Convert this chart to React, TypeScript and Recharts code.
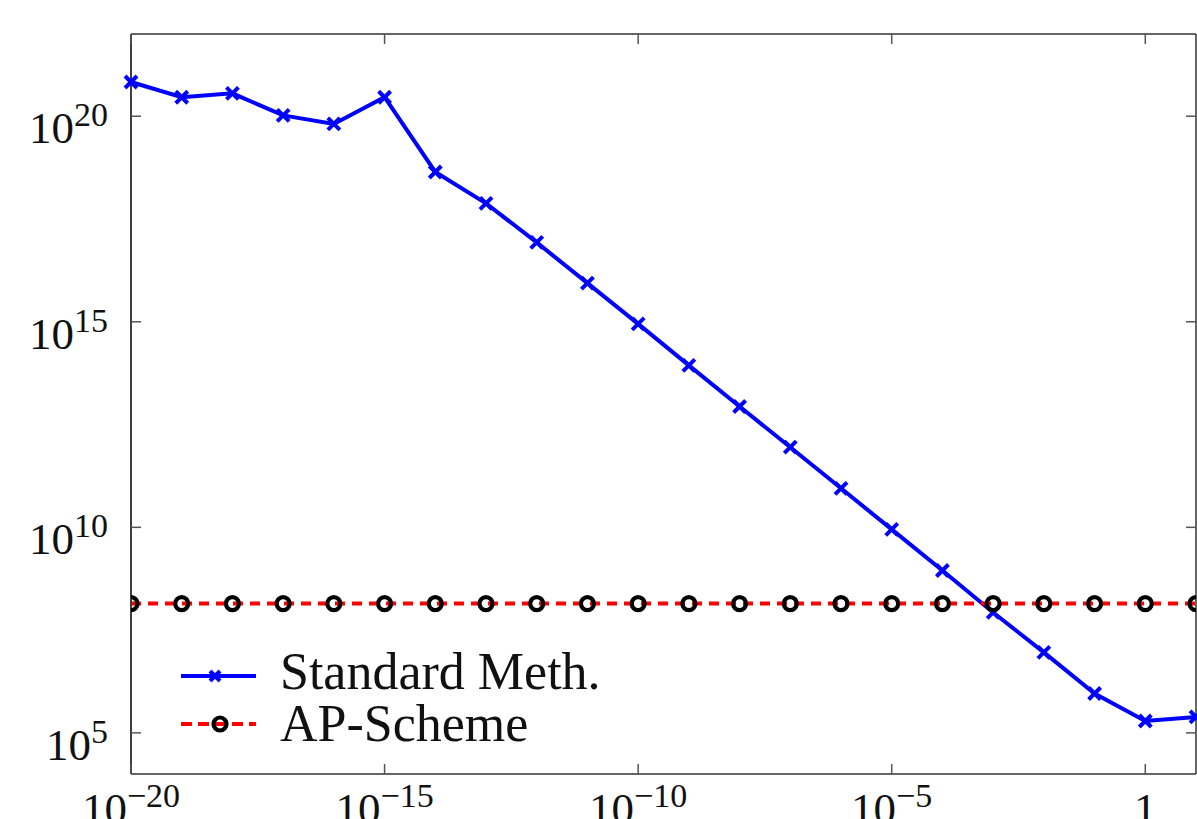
import { LineChart, Line, XAxis, YAxis, Legend } from 'recharts'

const xValues = [
  1e-20, 1e-19, 1e-18, 1e-17, 1e-16, 1e-15, 1e-14, 1e-13, 1e-12, 1e-11, 1e-10,
  1e-9, 1e-8, 1e-7, 1e-6, 1e-5, 1e-4, 1e-3, 1e-2, 1e-1, 1, 10,
]
const standardMeth = [
  6.8e20, 2.9e20, 3.6e20, 1.05e20, 6.5e19, 2.9e20, 4.4e18, 7.6e17, 8.5e16, 8.7e15, 8.9e14,
  8.7e13, 8.7e12, 8.9e11, 8.9e10, 8.9e9, 8.9e8, 8.5e7, 9.1e6, 9.1e5, 1.95e5, 2.45e5,
]
const apScheme = [
  1.4e8, 1.4e8, 1.4e8, 1.4e8, 1.4e8, 1.4e8, 1.4e8, 1.4e8, 1.4e8, 1.4e8, 1.4e8,
  1.4e8, 1.4e8, 1.4e8, 1.4e8, 1.4e8, 1.4e8, 1.4e8, 1.4e8, 1.4e8, 1.4e8, 1.4e8,
]
const xTicks = [1e-20, 1e-15, 1e-10, 1e-5, 1]
const xTickLabels = [['10', '−20'], ['10', '−15'], ['10', '−10'], ['10', '−5'], ['1', '']]
const yTicks = [1e5, 1e10, 1e15, 1e20]
const yTickLabels = [['10', '5'], ['10', '10'], ['10', '15'], ['10', '20']]
const seriesNames = ['Standard Meth.', 'AP-Scheme']

const X_DOMAIN = [1e-20, 10]
const Y_DOMAIN = [1e4, 1e22]
const FONT = '"Liberation Serif", "DejaVu Serif", serif'
const BLUE = '#0000ff'
const RED = '#ff0000'
const AXIS = '#333'
const TICK_COLOR = '#555'
const TICK = { stroke: TICK_COLOR, strokeWidth: 1.5 }
const TICK_LEN = 10
const DASH = '10 7'

const data = xValues.map((x, i) => ({ x, standard: standardMeth[i], ap: apScheme[i] }))

function PowerLabel({ x, y, base, exp, anchor }: any) {
  return (
    <text x={x} y={y} textAnchor={anchor} fontFamily={FONT} fill="#111" fontSize={45}>
      <tspan>{base}</tspan>
      {exp && (
        <tspan dy={-17} fontSize={34}>
          {exp}
        </tspan>
      )}
    </text>
  )
}

// bottom axis: inward tick mark + power-of-ten label
function XTick(props: any) {
  const { x, y, payload } = props
  const i = xTicks.indexOf(payload.value)
  if (i < 0) return null
  const [base, exp] = xTickLabels[i]
  return (
    <g>
      <line x1={x} y1={y} x2={x} y2={y - TICK_LEN} stroke={TICK_COLOR} strokeWidth={1.5} />
      <PowerLabel x={x} y={y + 50} base={base} exp={exp} anchor="middle" />
    </g>
  )
}

// top axis: inward tick mark only
function TopTick(props: any) {
  const { x, y } = props
  return <line x1={x} y1={y} x2={x} y2={y + TICK_LEN} stroke={TICK_COLOR} strokeWidth={1.5} />
}

function YTick(props: any) {
  const { x, y, payload } = props
  const i = yTicks.indexOf(payload.value)
  if (i < 0) return null
  const [base, exp] = yTickLabels[i]
  return <PowerLabel x={x} y={y + 27} base={base} exp={exp} anchor="end" />
}

function NoLabel() {
  return <g />
}

function Cross({ cx, cy, size = 6 }: any) {
  if (cx == null || cy == null) return null
  return (
    <g>
      <line x1={cx - size} y1={cy - size} x2={cx + size} y2={cy + size} stroke={BLUE} strokeWidth={4} />
      <line x1={cx - size} y1={cy + size} x2={cx + size} y2={cy - size} stroke={BLUE} strokeWidth={4} />
    </g>
  )
}

function Ring({ cx, cy }: any) {
  if (cx == null || cy == null) return null
  return <circle cx={cx} cy={cy} r={6.5} fill="none" stroke="#000" strokeWidth={4.2} />
}

function renderLegend() {
  return (
    <svg width={460} height={130} style={{ display: 'block' }}>
      <line x1={11} y1={46} x2={86} y2={46} stroke={BLUE} strokeWidth={4} />
      <Cross cx={45} cy={46} size={5} />
      <text x={110} y={59} fontFamily={FONT} fontSize={52} fill="#111">
        {seriesNames[0]}
      </text>
      <line x1={11} y1={94} x2={86} y2={94} stroke={RED} strokeWidth={4} strokeDasharray="11 6" />
      <Ring cx={50} cy={94} />
      <text x={110} y={111} fontFamily={FONT} fontSize={52} fill="#111">
        {seriesNames[1]}
      </text>
    </svg>
  )
}

export default function App() {
  return (
    <div style={{ position: 'absolute', left: 0, top: 0, background: '#fff' }}>
      <LineChart width={1197} height={819} data={data} margin={{ top: 34, right: 1, bottom: 0, left: 0 }}>
        {/* labelled axes */}
        <XAxis
          dataKey="x"
          type="number"
          scale="log"
          domain={X_DOMAIN}
          ticks={xTicks}
          height={45}
          tickLine={false}
          tickSize={0}
          tickMargin={0}
          tick={<XTick />}
          interval={0}
          stroke={AXIS}
          strokeWidth={1.5}
        />
        <YAxis
          type="number"
          scale="log"
          domain={Y_DOMAIN}
          ticks={yTicks}
          width={131}
          tickLine={false}
          tickSize={0}
          tickMargin={23}
          tick={<YTick />}
          interval={0}
          stroke={AXIS}
          strokeWidth={1.5}
        />
        {/* mirrored axes: frame + inward ticks */}
        <XAxis
          xAxisId="top"
          dataKey="x"
          type="number"
          scale="log"
          orientation="top"
          mirror
          allowDataOverflow
          domain={X_DOMAIN}
          ticks={xTicks}
          tickSize={0}
          tickMargin={0}
          tickLine={false}
          tick={<TopTick />}
          interval={0}
          stroke={AXIS}
          strokeWidth={1.5}
        />
        <YAxis
          yAxisId="leftTicks"
          type="number"
          scale="log"
          mirror
          allowDataOverflow
          domain={Y_DOMAIN}
          ticks={yTicks}
          tickSize={10}
          tickLine={TICK}
          tick={<NoLabel />}
          interval={0}
          stroke={AXIS}
          strokeWidth={1.5}
        />
        <YAxis
          yAxisId="right"
          orientation="right"
          type="number"
          scale="log"
          mirror
          allowDataOverflow
          domain={Y_DOMAIN}
          ticks={yTicks}
          tickSize={10}
          tickLine={TICK}
          tick={<NoLabel />}
          interval={0}
          stroke={AXIS}
          strokeWidth={1.5}
        />
        <Legend
          layout="vertical"
          align="center"
          verticalAlign="middle"
          content={renderLegend}
          wrapperStyle={{ left: 170, top: 630, width: 460, height: 130 }}
        />
        <Line
          dataKey="standard"
          name={seriesNames[0]}
          stroke={BLUE}
          strokeWidth={4}
          dot={(p: any) => <Cross key={`c${p.index}`} cx={p.cx} cy={p.cy} />}
          isAnimationActive={false}
        />
        <Line
          xAxisId="top"
          yAxisId="right"
          dataKey="ap"
          name={seriesNames[1]}
          stroke={RED}
          strokeWidth={4}
          strokeDasharray={DASH}
          dot={(p: any) => <Ring key={`r${p.index}`} cx={p.cx} cy={p.cy} />}
          isAnimationActive={false}
        />
      </LineChart>
    </div>
  )
}
